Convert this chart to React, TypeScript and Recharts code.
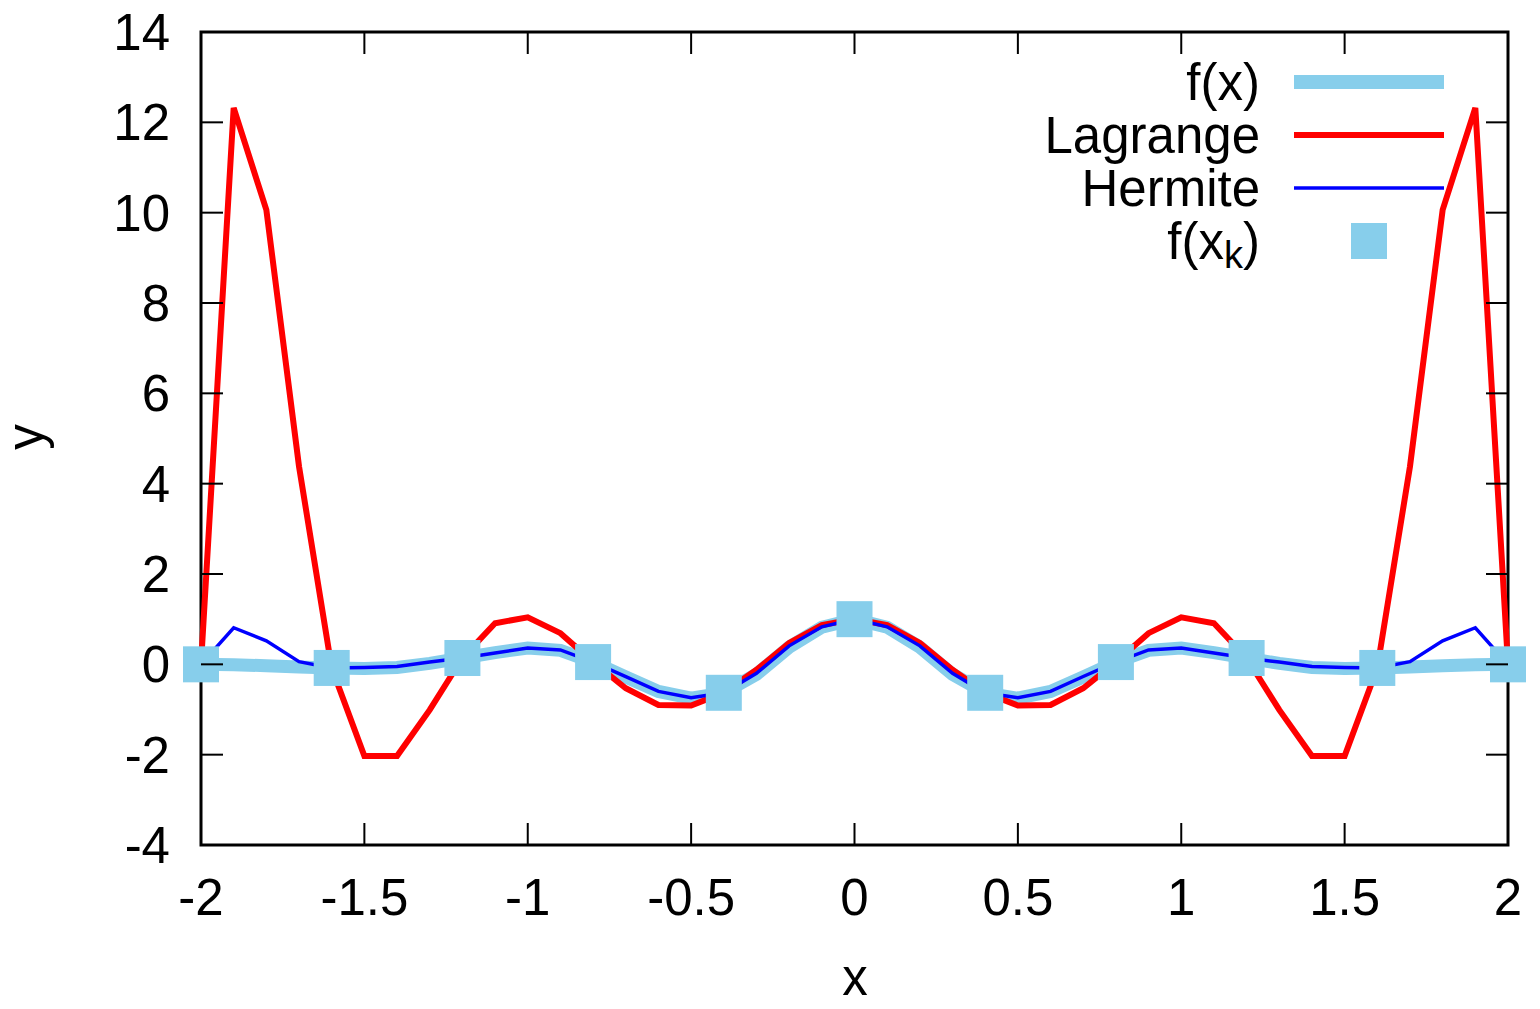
import React from "react";
import { ComposedChart, Line, Scatter, XAxis, YAxis } from "recharts";

const xs = [-2, -1.9, -1.8, -1.7, -1.6, -1.5, -1.4, -1.3, -1.2, -1.1, -1, -0.9, -0.8, -0.7, -0.6, -0.5, -0.4, -0.3, -0.2, -0.1, 0,
  0.1, 0.2, 0.3, 0.4, 0.5, 0.6, 0.7, 0.8, 0.9, 1, 1.1, 1.2, 1.3, 1.4, 1.5, 1.6, 1.7, 1.8, 1.9, 2];
const fValues = [0.0, -0.01, -0.03, -0.06, -0.08, -0.09, -0.07, 0.02, 0.14, 0.26, 0.36, 0.31, 0.05, -0.28, -0.6, -0.75, -0.63, -0.22, 0.38, 0.82, 1.0,
  0.82, 0.38, -0.22, -0.63, -0.75, -0.6, -0.28, 0.05, 0.31, 0.36, 0.26, 0.14, 0.02, -0.07, -0.09, -0.08, -0.06, -0.03, -0.01, 0.0];
const lagrangeValues = [0.0, 12.32, 10.06, 4.38, -0.08, -2.03, -2.03, -1.01, 0.14, 0.91, 1.04, 0.69, 0.05, -0.53, -0.9, -0.91, -0.63, -0.12, 0.47, 0.87, 1.0,
  0.87, 0.47, -0.12, -0.63, -0.91, -0.9, -0.53, 0.05, 0.69, 1.04, 0.91, 0.14, -1.01, -2.03, -2.03, -0.08, 4.38, 10.06, 12.32, 0.0];
const hermiteValues = [0.0, 0.81, 0.52, 0.06, -0.08, -0.07, -0.05, 0.05, 0.14, 0.25, 0.36, 0.32, 0.05, -0.27, -0.6, -0.74, -0.63, -0.2, 0.41, 0.83, 1.0,
  0.83, 0.41, -0.2, -0.63, -0.74, -0.6, -0.27, 0.05, 0.32, 0.36, 0.25, 0.14, 0.05, -0.05, -0.07, -0.08, 0.06, 0.52, 0.81, 0.0];
const nodeX = [-2, -1.6, -1.2, -0.8, -0.4, 0, 0.4, 0.8, 1.2, 1.6, 2];
const nodeY = [0.0, -0.08, 0.14, 0.05, -0.63, 1.0, -0.63, 0.05, 0.14, -0.08, 0.0];
const xTicks = [-2, -1.5, -1, -0.5, 0, 0.5, 1, 1.5, 2];
const yTicks = [-4, -2, 0, 2, 4, 6, 8, 10, 12, 14];
const seriesNames = ["f(x)", "Lagrange", "Hermite", "f(x_k)"];

const fData = xs.map((x, i) => ({ x, y: fValues[i] }));
const lagData = xs.map((x, i) => ({ x, y: lagrangeValues[i] }));
const herData = xs.map((x, i) => ({ x, y: hermiteValues[i] }));
const nodeData = nodeX.map((x, i) => ({ x, y: nodeY[i] }));

const FONT = "'Liberation Sans', Arial, sans-serif";
const FS = 51;
const LEFT = 201, RIGHT = 1508, TOP = 32, BOTTOM = 845, TICKLEN = 22;
const SKY = "#87CEEB";

const XTick = (props: any) => {
  const { x, payload } = props;
  return (
    <g>
      <line x1={x} x2={x} y1={BOTTOM} y2={BOTTOM - TICKLEN} stroke="#000" strokeWidth={2} />
      <line x1={x} x2={x} y1={TOP} y2={TOP + TICKLEN} stroke="#000" strokeWidth={2} />
      <text x={x} y={897} dy="0.35em" textAnchor="middle" fontFamily={FONT} fontSize={FS} fill="#000">
        {String(payload.value)}
      </text>
    </g>
  );
};

const YTick = (props: any) => {
  const { y, payload } = props;
  return (
    <g>
      <line x1={LEFT} x2={LEFT + TICKLEN} y1={y} y2={y} stroke="#000" strokeWidth={2} />
      <line x1={RIGHT} x2={RIGHT - TICKLEN} y1={y} y2={y} stroke="#000" strokeWidth={2} />
      <text x={170} y={y} dy="0.35em" textAnchor="end" fontFamily={FONT} fontSize={FS} fill="#000">
        {String(payload.value)}
      </text>
    </g>
  );
};

const SquareShape = (props: any) => {
  const { cx, cy } = props;
  return <rect x={cx - 18} y={cy - 18} width={36} height={36} fill={SKY} />;
};

const Frame = () => (
  <rect x={LEFT} y={TOP} width={RIGHT - LEFT} height={BOTTOM - TOP} fill="none" stroke="#000" strokeWidth={3} />
);

const LegendBox = () => {
  const rows = [82, 135, 188, 241];
  const textX = 1260;
  const x1 = 1294, x2 = 1444;
  return (
    <g fontFamily={FONT} fontSize={FS} fill="#000">
      <text x={textX} y={rows[0] + 18} textAnchor="end">{seriesNames[0]}</text>
      <line x1={x1} x2={x2} y1={rows[0]} y2={rows[0]} stroke={SKY} strokeWidth={14} />
      <text x={textX} y={rows[1] + 18} textAnchor="end">{seriesNames[1]}</text>
      <line x1={x1} x2={x2} y1={rows[1]} y2={rows[1]} stroke="#FF0000" strokeWidth={6} />
      <text x={textX} y={rows[2] + 18} textAnchor="end">{seriesNames[2]}</text>
      <line x1={x1} x2={x2} y1={rows[2]} y2={rows[2]} stroke="#0000FF" strokeWidth={3.5} />
      <text x={textX} y={rows[3] + 18} textAnchor="end">
        <tspan>f(x</tspan>
        <tspan fontSize={38} dy={9}>k</tspan>
        <tspan fontSize={FS} dy={-9}>)</tspan>
      </text>
      <rect x={1369 - 18} y={rows[3] - 18} width={36} height={36} fill={SKY} />
    </g>
  );
};

const AxisLabels = () => (
  <g fontFamily={FONT} fontSize={FS} fill="#000">
    <text x={855} y={995} textAnchor="middle">x</text>
    <text x={43} y={437} textAnchor="middle" transform="rotate(-90, 43, 437)">y</text>
  </g>
);

export default function App() {
  return (
    <div style={{ position: "absolute", left: 0, top: 0, background: "#fff" }}>
      <ComposedChart width={1540} height={1009} margin={{ top: TOP, right: 1540 - RIGHT, bottom: 0, left: 0 }}>
        <XAxis
          type="number"
          dataKey="x"
          domain={[-2, 2]}
          ticks={xTicks}
          interval={0}
          height={1009 - BOTTOM}
          axisLine={false}
          tickLine={false}
          tickSize={0}
          tickMargin={0}
          tick={<XTick />}
        />
        <YAxis
          type="number"
          dataKey="y"
          domain={[-4, 14]}
          ticks={yTicks}
          interval={0}
          width={LEFT}
          axisLine={false}
          tickLine={false}
          tickSize={0}
          tickMargin={0}
          tick={<YTick />}
        />
        <Frame />
        <Line data={fData} dataKey="y" name={seriesNames[0]} stroke={SKY} strokeWidth={13} dot={false} activeDot={false} isAnimationActive={false} />
        <Line data={lagData} dataKey="y" name={seriesNames[1]} stroke="#FF0000" strokeWidth={6} dot={false} activeDot={false} isAnimationActive={false} />
        <Line data={herData} dataKey="y" name={seriesNames[2]} stroke="#0000FF" strokeWidth={3.5} dot={false} activeDot={false} isAnimationActive={false} />
        <Scatter data={nodeData} dataKey="y" name={seriesNames[3]} shape={<SquareShape />} isAnimationActive={false} />
        <LegendBox />
        <AxisLabels />
      </ComposedChart>
    </div>
  );
}
